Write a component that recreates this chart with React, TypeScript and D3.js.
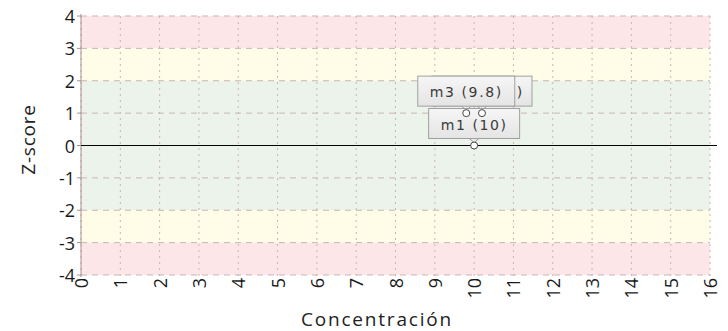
import React from "react";
import * as d3 from "d3";

const xTicks = [0, 1, 2, 3, 4, 5, 6, 7, 8, 9, 10, 11, 12, 13, 14, 15, 16];
const yTicks = [4, 3, 2, 1, 0, -1, -2, -3, -4];
const pointNames = ["m2", "m3", "m1"];
const pointX = [10.2, 9.8, 10];
const pointZ = [1.0, 1.0, 0];
const pointLabels = ["m2 (10.2)", "m3 (9.8)", "m1 (10)"];
const bandFrom = [3, 2, -2, -3, -4];
const bandTo = [4, 3, 2, -2, -3];
const bandColor = ["#fde6e8", "#fffde8", "#ecf3ea", "#fffde8", "#fde6e8"];

const W = 728;
const H = 331;
const FONT = "'Open Sans', sans-serif";

export default function App() {
  const x = d3.scaleLinear().domain([0, 16]).range([81, 710]);
  const y = d3.scaleLinear().domain([-4, 4]).range([275, 16]);
  const labelW = [100, 97, 91];
  const boxH = 30;

  return (
    <svg width={W} height={H} style={{ position: "absolute", left: 0, top: 0 }}>
      <defs>
        <linearGradient id="lbl" x1="0" y1="0" x2="0" y2="1">
          <stop offset="0" stopColor="#f6f6f6" />
          <stop offset="1" stopColor="#e4e4e4" />
        </linearGradient>
      </defs>
      {bandFrom.map((f, i) => (
        <rect key={i} x={x(0)} width={x(16) - x(0)} y={y(bandTo[i])} height={y(f) - y(bandTo[i])} fill={bandColor[i]} />
      ))}
      {yTicks.map((t) => (
        <line key={"h" + t} x1={x(0)} x2={x(16)} y1={y(t)} y2={y(t)} stroke="#c9b5b5" strokeWidth={1} strokeDasharray="6,5" />
      ))}
      {xTicks.map((t) => (
        <line key={"v" + t} x1={x(t)} x2={x(t)} y1={y(4)} y2={y(-4) + 3} stroke="#c9b5b5" strokeWidth={1} strokeDasharray="2,4" />
      ))}
      <line x1={x(0)} x2={x(0)} y1={y(4) - 2} y2={y(-4) + 2} stroke="#a89090" strokeWidth={1} />
      {yTicks.map((t) => (
        <line key={"yt" + t} x1={x(0) - 4} x2={x(0)} y1={y(t)} y2={y(t)} stroke="#a89090" />
      ))}
      <line x1={x(0)} x2={717} y1={y(0)} y2={y(0)} stroke="#000" strokeWidth={1.2} />
      {yTicks.map((t) => (
        <text key={"yl" + t} x={75} y={y(t)} textAnchor="end" dominantBaseline="central" fontFamily={FONT} fontSize={18} fontWeight={500} fill="#1a1a1a">
          {t}
        </text>
      ))}
      {xTicks.map((t) => (
        <text key={"xl" + t} transform={`translate(${x(t)},${y(-4) + 3}) rotate(-90)`} textAnchor="end" dominantBaseline="central" fontFamily={FONT} fontSize={18} fill="#1a1a1a">
          {t}
        </text>
      ))}
      <text transform={`translate(28,${y(0) - 6}) rotate(-90)`} textAnchor="middle" dominantBaseline="central" fontFamily={FONT} fontSize={19} letterSpacing={0.8} fill="#222">
        Z-score
      </text>
      <text x={377} y={326} textAnchor="middle" fontFamily={FONT} fontSize={19} letterSpacing={1.8} fill="#222">
        Concentración
      </text>
      {pointNames.map((n, i) => {
        const px = x(pointX[i]);
        const py = y(pointZ[i]);
        const w = labelW[i];
        const bx = px - w / 2;
        const by = py - 7 - boxH;
        return (
          <g key={n}>
            <path d={`M${px - 6},${by + boxH - 1} L${px},${py - 3} L${px + 6},${by + boxH - 1}`} fill="#ececec" stroke="#999" />
            <rect x={bx} y={by} width={w} height={boxH} fill="url(#lbl)" stroke="#a0a0a0" />
            <text x={px} y={by + boxH / 2 + 1} textAnchor="middle" dominantBaseline="central" fontFamily="'DejaVu Sans', sans-serif" fontSize={14} letterSpacing={1.6} fill="#3a3a3a">
              {pointLabels[i]}
            </text>
          </g>
        );
      })}
      {pointNames.map((n, i) => (
        <circle key={"c" + n} cx={x(pointX[i])} cy={y(pointZ[i])} r={3.5} fill="#fff" stroke="#444" strokeWidth={1} />
      ))}
    </svg>
  );
}
